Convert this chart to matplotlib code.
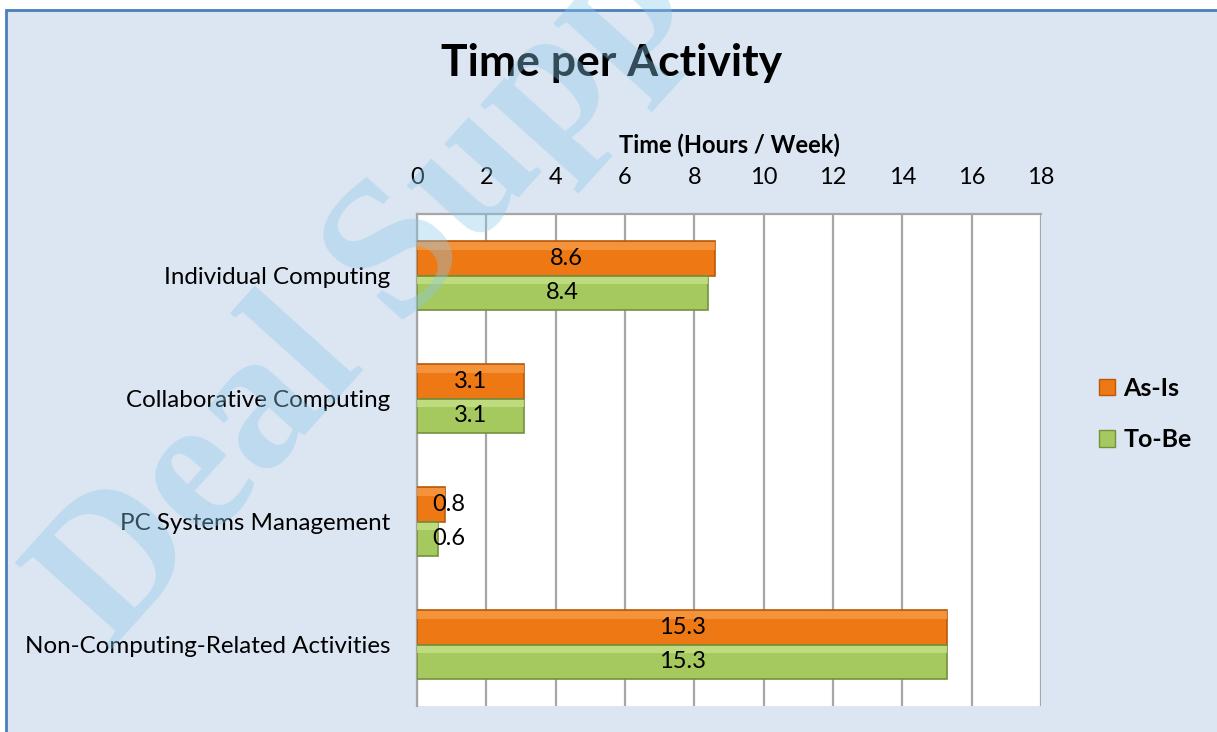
import matplotlib
matplotlib.use("Agg")
import matplotlib.pyplot as plt
import numpy as np
from matplotlib.patches import Rectangle

categories = ["Individual Computing", "Collaborative Computing",
              "PC Systems Management", "Non-Computing-Related Activities"]
as_is = [8.6, 3.1, 0.8, 15.3]
to_be = [8.4, 3.1, 0.6, 15.3]
series_names = ["As-Is", "To-Be"]
xticks = [0, 2, 4, 6, 8, 10, 12, 14, 16, 18]

FONT = "Lato"
plt.rcParams['font.family'] = [FONT, 'DejaVu Sans']

W, H = 1217, 732
fig = plt.figure(figsize=(W / 100, H / 100), dpi=100)
fig.patch.set_facecolor("white")

# chart area background with blue border
bg = Rectangle((6 / W, -0.2), 1.2, 1 - 10 / H + 0.2, transform=fig.transFigure,
               facecolor="#DCE6F2", edgecolor="#4A7EBB", linewidth=2, zorder=-5)
fig.patches.append(bg)

ax = fig.add_axes([417 / W, 1 - 706 / H, (1041 - 417) / W, (706 - 214) / H])
ax.set_facecolor("white")
ax.set_zorder(1)

y = np.arange(len(categories))
h = 0.28
orange = "#EE7814"
orange_edge = "#B85A0C"
green = "#A6C95F"
green_edge = "#76903F"

b1 = ax.barh(y - h / 2, as_is, height=h, color=orange, edgecolor=orange_edge, linewidth=1.2, zorder=3)
b2 = ax.barh(y + h / 2, to_be, height=h, color=green, edgecolor=green_edge, linewidth=1.2, zorder=3)
# bevel highlights
ax.barh(y - h / 2 - h * 0.36, as_is, height=h * 0.22, color="#F79B45", linewidth=0, zorder=4, alpha=0.8)
ax.barh(y + h / 2 - h * 0.36, to_be, height=h * 0.22, color="#C5E285", linewidth=0, zorder=4, alpha=0.8)

for vals, off in ((as_is, -h / 2), (to_be, h / 2)):
    for yi, v in zip(y, vals):
        if v >= 1.5:
            ax.text(v / 2, yi + off, f"{v:.1f}", ha="center", va="center", fontsize=17, zorder=6)
        else:
            ax.text(0.43, yi + off, f"{v:.1f}", ha="left", va="center", fontsize=17, zorder=6)

ax.set_xlim(0, 18)
ax.set_ylim(len(categories) - 0.5, -0.5)
ax.set_xticks(xticks)
ax.xaxis.tick_top()
ax.xaxis.set_label_position("top")
ax.tick_params(axis="x", length=0, pad=19, labelsize=17)
ax.tick_params(axis="y", length=0, pad=19, labelsize=17.4)
ax.set_yticks(y)
ax.set_yticklabels(categories)
ax.set_xlabel("Time (Hours / Week)", fontsize=17, fontweight="bold", labelpad=10)
ax.grid(axis="x", color="#A6A6A6", linewidth=1.6, zorder=1)
ax.set_axisbelow(True)
for s in ("right", "bottom"):
    ax.spines[s].set_visible(False)
for s in ("left", "top"):
    ax.spines[s].set_color("#A6A6A6")
    ax.spines[s].set_linewidth(1.6)

fig.text(612 / W, 1 - 63 / H, "Time per Activity", ha="center", va="center",
         fontsize=32, fontweight="bold")

handles = [Rectangle((0, 0), 1, 1, facecolor=orange, edgecolor=orange_edge),
           Rectangle((0, 0), 1, 1, facecolor=green, edgecolor=green_edge)]
fig.legend(handles, series_names, loc="center left",
           bbox_to_anchor=(1076 / W, 1 - 414 / H), frameon=False,
           prop={"weight": "bold", "size": 18}, handlelength=0.65,
           handleheight=0.65, handletextpad=0.35, labelspacing=1.15)

# watermark
wm = fig.text(110 / W, 1 - 652 / H, "Deal Support", rotation=48, rotation_mode="anchor",
              ha="left", va="baseline", fontsize=142, fontweight="bold",
              family="Liberation Serif", color="#8CC8EB", alpha=0.38)
wm.set_zorder(20)

fig.savefig("out.png", dpi=100)
